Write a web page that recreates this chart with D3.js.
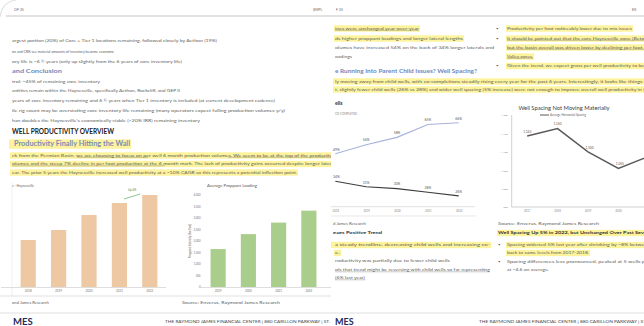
<!DOCTYPE html>
<html><head><meta charset="utf-8">
<script src="https://cdn.jsdelivr.net/npm/d3@7"></script>
<style>body{margin:0;background:#fff}svg{display:block}text{font-family:Lato,"Open Sans",sans-serif}</style>
</head><body><svg id="c" width="644" height="326"></svg>
<script>
// ---------- chart data ----------
const prodYears = ["2018", "2019", "2020", "2021", "2022"];
const prodValues = [4.7, 5.7, 7.2, 8.4, 9.2];
const prodNote = "Up 4%";
const proppantYears = ["2019", "2020", "2021", "2022"];
const proppantValues = [1650, 2300, 2800, 3320];
const proppantTicks = [0, 500, 1000, 1500, 2000, 2500, 3000, 3500, 4000];
const wellYears = ["2018", "2019", "2020", "2021", "2022"];
const coCompleted = [49, 54, 58, 65, 66];
const childWells = [34, 31, 30, 28, 26];
const spacingYears = ["2017", "2018", "2019", "2020", "2021"];
const spacingValues = [1143, 1163, 1100, 1055, 1088];
const spacingTicks = [950, 1000, 1050, 1100, 1150, 1200];

const svg = d3.select("#c");
svg.append("rect").attr("width", 644).attr("height", 326).attr("fill", "#fff");
const defs = svg.append("defs");
defs.append("clipPath").attr("id", "cl").append("rect").attr("x", 0).attr("y", 0).attr("width", 331).attr("height", 326);
defs.append("clipPath").attr("id", "cr").append("rect").attr("x", 331).attr("y", 0).attr("width", 313).attr("height", 326);
const L = svg.append("g").attr("clip-path", "url(#cl)");
const R = svg.append("g").attr("clip-path", "url(#cr)");

const HL = "#fcf39c";
const TXT = "#606060";
function txt(g, x, y, s, o = {}) {
  const sz = o.size || 4.4;
  const t = g.append("text").attr("x", x).attr("y", y).text(s)
    .attr("font-size", sz).attr("fill", o.fill || TXT)
    .attr("font-weight", o.bold ? "bold" : null);
  if (o.anchor) t.attr("text-anchor", o.anchor);
  if (o.family) t.attr("font-family", o.family);
  if (o.end) t.attr("textLength", o.end - x).attr("lengthAdjust", "spacingAndGlyphs");
  const w = o.end ? o.end - x : t.node().getComputedTextLength();
  if (o.hl) {
    g.insert("rect", () => t.node()).attr("x", (o.hx != null ? o.hx : x - 1)).attr("y", y - sz * 0.95)
      .attr("width", w + 2 + (o.hx != null ? x - o.hx - 1 : 0)).attr("height", sz * 1.45).attr("fill", HL);
  }
  if (o.ul) {
    g.append("line").attr("x1", x).attr("x2", x + w).attr("y1", y + 0.8).attr("y2", y + 0.8)
      .attr("stroke", o.fill || TXT).attr("stroke-width", 0.35);
  }
  return t;
}
function bullet(g, x, y) { txt(g, x, y, "\u2022", { size: 4.4 }); }

// ---------- page frames ----------
L.append("line").attr("x1", 6).attr("x2", 331).attr("y1", 16).attr("y2", 16).attr("stroke", "#d8d8d8").attr("stroke-width", 1.5);
R.append("line").attr("x1", 331).attr("x2", 644).attr("y1", 16).attr("y2", 16).attr("stroke", "#d8d8d8").attr("stroke-width", 1.5);
L.append("path").attr("d", "M0,17 Q2,2 16,0").attr("fill", "none").attr("stroke", "#e2e2e2").attr("stroke-width", 1.2);
txt(L, 14, 11, "OF 35", { size: 3.6, fill: "#666" });
txt(L, 313, 11, "(EXPL", { size: 3.6, fill: "#666" });
txt(R, 336, 11, "F 35", { size: 3.6, fill: "#666" });
txt(R, 632, 11, "EX", { size: 3.6, fill: "#666" });

// ---------- left page text ----------
txt(L, 12, 41.5, "argest portion (20%) of Core + Tier 1 locations remaining, followed closely by Aethon (19%)", { end: 217 });
txt(L, 12, 52.5, "on and CRK see material amounts of inventory become economic", { end: 114 });
txt(L, 12, 63, "ory life is ~6 \u00bd years (only up slightly from the 6 years of core inventory life)", { end: 182 });
txt(L, 12, 73, "and Conclusion", { size: 6, bold: true, fill: "#7088c0", end: 62 });
txt(L, 12, 82.5, "trol: ~45% of remaining core inventory", { end: 100 });
txt(L, 12, 91.5, "antities remain within the Haynesville, specifically Aethon, Rockcliff, and GEP II", { end: 180 });
txt(L, 12, 101.5, "years of core inventory remaining and 6 \u00bd years when Tier 1 inventory is included (at current development cadence)", { end: 275 });
txt(L, 12, 111.5, "ile rig count may be overstating core inventory life remaining (many operators expect falling production volumes y/y)", { end: 285 });
txt(L, 12, 121.5, "han doubles the Haynesville's economically viable (>20% IRR) remaining inventory", { end: 200 });
txt(L, 12, 134, "WELL PRODUCTIVITY OVERVIEW", { size: 7, bold: true, fill: "#1a1a1a", end: 114 });
txt(L, 14, 145.5, "Productivity Finally Hitting the Wall", { size: 6.5, bold: true, fill: "#7d8cb8", end: 130, hl: true, hx: 9 });
txt(L, 12, 156.5, "ck from the Permian Basin, we are choosing to focus on per well 6 month production volumes. We seem to be at the top of the productivity", { end: 338, hl: true, hx: 10 });
txt(L, 12, 165, "olumes and the steep 7% decline in per foot production at the 6 month mark. The lack of productivity gains occurred despite longer laterals", { end: 338, hl: true, hx: 10 });
txt(L, 12, 173.5, "ear. The prior 5 years the Haynesville increased well productivity at a ~10% CAGR so this represents a potential inflection point.", { end: 297, hl: true, hx: 10 });
// underline fragments
[[77, 148], [228, 338]].forEach(([a, b]) => L.append("line").attr("x1", a).attr("x2", b).attr("y1", 157.3).attr("y2", 157.3).attr("stroke", TXT).attr("stroke-width", 0.35));
L.append("line").attr("x1", 12).attr("x2", 165).attr("y1", 165.8).attr("y2", 165.8).attr("stroke", TXT).attr("stroke-width", 0.35);

// ---------- chart A: orange bars ----------
txt(L, 12, 187, "s - Haynesville", { size: 3.5, fill: "#666" });
const xA = d3.scaleBand().domain(prodYears).range([13, 165]).paddingInner(0.5).paddingOuter(0.25);
const yA = d3.scaleLinear().domain([0, 10]).range([287, 187]);
L.append("line").attr("x1", 12).attr("x2", 12).attr("y1", 182).attr("y2", 296).attr("stroke", "#e6e6e6").attr("stroke-width", 0.6);
L.append("g").selectAll("rect").data(prodValues).join("rect")
  .attr("x", (d, i) => xA(prodYears[i])).attr("width", xA.bandwidth())
  .attr("y", d => yA(d)).attr("height", d => yA(0) - yA(d)).attr("fill", "#eec7a3");
const axA = L.append("g").attr("transform", "translate(0,287.5)")
  .call(d3.axisBottom(xA).tickSize(0).tickPadding(2.5));
axA.select(".domain").attr("d", "M1,0H166").attr("stroke", "#d0d0d0").attr("stroke-width", 0.7);
axA.selectAll("text").attr("font-size", 3).attr("fill", "#777");
{
  const i4 = 3, i5 = 4;
  const x1 = xA(prodYears[i4]) + xA.bandwidth() * 0.8, y1 = yA(prodValues[i4]) - 4;
  const x2 = xA(prodYears[i5]) - 2, y2 = yA(prodValues[i5]) - 1;
  L.append("line").attr("x1", x1).attr("y1", y1).attr("x2", x2).attr("y2", y2).attr("stroke", "#5fae5f").attr("stroke-width", 0.7);
  txt(L, (x1 + x2) / 2, y2 - 3.5, prodNote, { size: 2.8, fill: "#4b8f4b", anchor: "middle" });
}
L.append("line").attr("x1", 0).attr("x2", 331).attr("y1", 296).attr("y2", 296).attr("stroke", "#cfcfcf").attr("stroke-width", 0.6);
txt(L, 12, 303.5, "ond James Research", { size: 4.2 });

// ---------- chart B: green bars ----------
txt(L, 207, 186.5, "Average Proppant Loading", { size: 3.6, fill: "#555", end: 257 });
const xB = d3.scaleBand().domain(proppantYears).range([203, 324]).paddingInner(0.5).paddingOuter(0.25);
const yB = d3.scaleLinear().domain([0, 4000]).range([287, 195]);
L.append("g").selectAll("rect").data(proppantValues).join("rect")
  .attr("x", (d, i) => xB(proppantYears[i])).attr("width", xB.bandwidth())
  .attr("y", d => yB(d)).attr("height", d => yB(0) - yB(d)).attr("fill", "#a9cd8a");
const ayB = L.append("g").attr("transform", "translate(203,0)")
  .call(d3.axisLeft(yB).tickValues(proppantTicks).tickSize(0).tickPadding(2.5));
ayB.select(".domain").remove();
ayB.selectAll("text").attr("font-size", 2.8).attr("fill", "#777");
const axB = L.append("g").attr("transform", "translate(0,287.5)")
  .call(d3.axisBottom(xB).tickSize(0).tickPadding(2.5));
axB.select(".domain").attr("d", "M199,0H331").attr("stroke", "#d0d0d0").attr("stroke-width", 0.7);
axB.selectAll("text").attr("font-size", 3).attr("fill", "#777");
L.append("text").attr("transform", "translate(191,241) rotate(-90)").attr("text-anchor", "middle")
  .attr("font-size", 2.8).attr("fill", "#666").text("Proppant Intensity (lbs/foot)");
txt(L, 182, 303.5, "Source: Enverus, Raymond James Research", { size: 4.2, end: 280 });

// footer left
L.append("line").attr("x1", 0).attr("x2", 331).attr("y1", 313).attr("y2", 313).attr("stroke", "#d6d6d6").attr("stroke-width", 0.8);
txt(L, 13, 325, "MES", { size: 9.5, bold: true, fill: "#1f2c5c", family: "'Liberation Serif',serif" });
txt(L, 165, 322.5, "THE RAYMOND JAMES FINANCIAL CENTER | 880 CARILLON PARKWAY | ST. P", { size: 3.7, fill: "#444", end: 334 });

// ---------- right page text ----------
txt(R, 335, 29.5, "ines were unchanged year-over-year", { end: 419, hl: true, ul: true });
txt(R, 335, 39.5, "ds higher proppant loadings and longer lateral lengths", { end: 463, hl: true });
txt(R, 335, 48.5, "olumes have increased 54% on the back of 34% longer laterals and", { end: 494 });
txt(R, 335, 57.5, "oadings", { end: 352 });
txt(R, 335, 72.5, "e Running Into Parent Child Issues? Well Spacing?", { size: 5.6, bold: true, fill: "#7088c0", end: 477 });
txt(R, 335, 82.5, "ly moving away from child wells, with co-completions steadily rising every year for the past 6 years. Interestingly, it looks like things st", { end: 648, hl: true, hx: 333 });
txt(R, 335, 90.5, "t, slightly fewer child wells (26% vs 28%) and wider well spacing (5% increase) were not enough to improve overall well productivity in th", { end: 648, hl: true, hx: 333 });

bullet(R, 496, 29.5); txt(R, 507, 29.5, "Productivity per foot noticeably lower due to mix issues", { end: 632, hl: true });
bullet(R, 496, 39.5); txt(R, 507, 39.5, "It should be pointed out that the core Haynesville zone (Betwe", { end: 648, hl: true, ul: true });
txt(R, 507, 48.5, "but the basin overall was driven lower by declining per foot m", { end: 648, hl: true, ul: true });
txt(R, 507, 57.5, "Valley zones.", { end: 533, hl: true, ul: true });
bullet(R, 496, 67); txt(R, 507, 67, "Given the trend, we expect gross per well productivity to be c", { end: 648, hl: true });

// ---------- chart C: co-completed vs child wells ----------
txt(R, 335, 104.5, "ells", { size: 5.2, bold: true, fill: "#333" });
txt(R, 335, 114.5, "CO-COMPLETED", { size: 2.8, fill: "#888" });
const xC = d3.scalePoint().domain(wellYears).range([335.3, 458.7]);
const yC = d3.scaleLinear().domain([20, 70]).range([206.9, 115.4]);
const lineC = d3.line().x((d, i) => xC(wellYears[i])).y(d => yC(d)).curve(d3.curveLinear);
R.append("path").datum(coCompleted).attr("d", lineC).attr("fill", "none").attr("stroke", "#a8b2da").attr("stroke-width", 1.1);
R.append("path").datum(childWells).attr("d", lineC).attr("fill", "none").attr("stroke", "#3c3c3c").attr("stroke-width", 1.1);
[coCompleted, childWells].forEach(arr => {
  R.append("g").selectAll("text").data(arr).join("text")
    .attr("x", (d, i) => xC(wellYears[i]) + (i === 0 ? 1 : 0)).attr("y", d => yC(d) - 3.2)
    .attr("text-anchor", "middle").attr("font-size", 3.4).attr("fill", "#555").text(d => d + "%");
});
const axC = R.append("g").attr("transform", "translate(0,206.7)")
  .call(d3.axisBottom(xC).tickSize(0).tickPadding(3));
axC.select(".domain").attr("d", "M331,0H475").attr("stroke", "#cfcfcf").attr("stroke-width", 0.6);
axC.selectAll("text").attr("font-size", 2.8).attr("fill", "#888");
R.append("line").attr("x1", 331).attr("x2", 476).attr("y1", 216).attr("y2", 216).attr("stroke", "#d8d8d8").attr("stroke-width", 0.6);

// ---------- chart D: well spacing ----------
txt(R, 564, 109.5, "Well Spacing Not Moving Materially", { size: 5.8, fill: "#404040", anchor: "middle" });
R.append("line").attr("x1", 540).attr("x2", 549).attr("y1", 115).attr("y2", 115).attr("stroke", "#595959").attr("stroke-width", 1);
txt(R, 550, 116.2, "Average Horizontal Spacing", { size: 3, fill: "#666" });
const xD = d3.scaleBand().domain(spacingYears).range([512, 664]).padding(0);
const yD = d3.scaleLinear().domain([950, 1200]).range([207, 115]);
const lineD = d3.line().x((d, i) => xD(spacingYears[i]) + xD.bandwidth() / 2).y(d => yD(d));
R.append("path").datum(spacingValues).attr("d", lineD).attr("fill", "none").attr("stroke", "#595959").attr("stroke-width", 1.4);
R.append("g").selectAll("text").data(spacingValues.slice(0, 4)).join("text")
  .attr("x", (d, i) => xD(spacingYears[i]) + xD.bandwidth() / 2 + (i >= 2 ? 1.5 : 0))
  .attr("y", d => yD(d) - 3.2).attr("text-anchor", "middle").attr("font-size", 3.2).attr("fill", "#555")
  .text(d => d3.format(",")(d));
const ayD = R.append("g").attr("transform", "translate(511.7,0)")
  .call(d3.axisLeft(yD).tickValues(spacingTicks).tickSize(0).tickPadding(4).tickFormat(d3.format(",")));
ayD.select(".domain").attr("d", "M0,115V207").attr("stroke", "#bcbcbc").attr("stroke-width", 0.7);
ayD.selectAll("text").attr("font-size", 2.6).attr("fill", "#888");
const axD = R.append("g").attr("transform", "translate(0,207)")
  .call(d3.axisBottom(xD).tickValues(spacingYears.slice(0, 4)).tickSize(0).tickPadding(3));
axD.select(".domain").attr("d", "M511.7,0H644").attr("stroke", "#bcbcbc").attr("stroke-width", 0.7);
axD.selectAll("text").attr("font-size", 2.8).attr("fill", "#888");

// ---------- right page lower text ----------
txt(R, 333, 224.5, "d James Research", { size: 4.2, end: 366 });
txt(R, 333, 234, "eaes Positive Trend", { size: 4.4, bold: true, fill: "#333", end: 382 });
txt(R, 335, 246, "a steady trendline, decreasing child wells and increasing co-", { end: 490, hl: true, hx: 327 });
txt(R, 335, 254, "e.", { end: 340, hl: true, hx: 334 });
txt(R, 335, 261.5, "roductivity was partially due to fewer child wells", { end: 450 });
txt(R, 335, 271, "ols that trend might be reversing with child wells so far representing", { end: 490, ul: true });
txt(R, 335, 279, "(6% last year)", { end: 365, ul: true });

txt(R, 498, 224.5, "Source: Enverus, Raymond James Research", { size: 4.2, end: 599 });
txt(R, 498, 234, "Well Spacing Up 5% in 2022, but Unchanged Over Past Seven", { size: 4.4, bold: true, fill: "#333", end: 650, hl: true });
bullet(R, 498, 246); txt(R, 507, 246, "Spacing widened 5% last year after shrinking by ~8% between", { end: 650, hl: true });
txt(R, 507, 254, "back to same levels from 2017-2018.", { end: 589, hl: true });
bullet(R, 498, 262.5); txt(R, 507, 262.5, "Spacing differences less pronounced, peaked at 5 wells per", { end: 650 });
txt(R, 507, 270.5, "at ~4.6 on average.", { end: 549 });

// footer right
R.append("line").attr("x1", 331).attr("x2", 644).attr("y1", 313).attr("y2", 313).attr("stroke", "#d6d6d6").attr("stroke-width", 0.8);
txt(R, 335, 325, "MES", { size: 9, bold: true, fill: "#1f2c5c", family: "'Liberation Serif',serif" });
txt(R, 479, 322.5, "THE RAYMOND JAMES FINANCIAL CENTER | 880 CARILLON PARKWAY | ST", { size: 3.7, fill: "#444", end: 646 });
</script></body></html>
